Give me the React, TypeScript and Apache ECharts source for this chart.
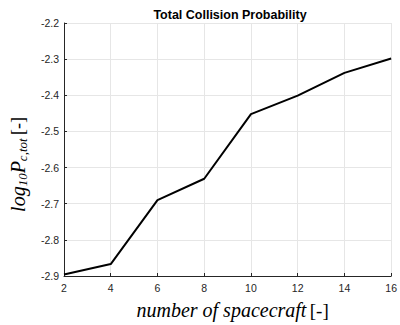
import React, { useEffect, useRef } from "react";
import * as echarts from "echarts";

const spacecraftCounts = [2, 4, 6, 8, 10, 12, 14, 16];
const logCollisionProb = [-2.896, -2.867, -2.69, -2.631, -2.452, -2.401, -2.338, -2.298];
const yTicks = { min: -2.9, max: -2.2, step: 0.1 };
const xTicks = { min: 2, max: 16, step: 2 };

const axisGray = "#262626";
const gridGray = "#e6e6e6";
const mathFont = "Liberation Serif";
const uiFont = "Liberation Sans";

export default function App() {
  const ref = useRef<HTMLDivElement>(null);

  useEffect(() => {
    if (!ref.current) return;
    const chart = echarts.init(ref.current, undefined, { renderer: "svg" });
    chart.setOption({
      animation: false,
      backgroundColor: "#ffffff",
      title: {
        text: "Total Collision Probability",
        left: 225,
        textAlign: "center",
        top: 3,
        textStyle: { fontFamily: uiFont, fontSize: 12.5, fontWeight: "bold", color: "#000" },
      },
      grid: { left: 57, right: 7, top: 23, bottom: 39 },
      xAxis: {
        type: "value",
        min: xTicks.min,
        max: xTicks.max,
        interval: xTicks.step,
        name: "{m|number of spacecraft} {n|[-]}",
        nameLocation: "middle",
        nameGap: 24,
        nameTextStyle: {
          padding: [0, 0, 0, 10],
          rich: {
            m: { fontFamily: mathFont, fontStyle: "italic", fontSize: 20, color: "#000" },
            n: { fontFamily: mathFont, fontSize: 19, color: "#000" },
          },
        },
        axisLine: { show: true, lineStyle: { color: axisGray, width: 1 } },
        axisTick: { show: true, inside: true, length: 3, lineStyle: { color: axisGray } },
        axisLabel: { fontFamily: uiFont, fontSize: 10.5, color: axisGray, margin: 6 },
        splitLine: { show: true, lineStyle: { color: gridGray, width: 1 } },
      },
      yAxis: {
        type: "value",
        min: yTicks.min,
        max: yTicks.max,
        interval: yTicks.step,
        name: "{m|log}{s|10}{m|P}{s|c,tot} {n|[-]}",
        nameLocation: "middle",
        nameRotate: 90,
        nameGap: 35,
        nameTextStyle: {
          padding: [0, 30, 0, 0],
          rich: {
            m: { fontFamily: mathFont, fontStyle: "italic", fontSize: 20, color: "#000", lineHeight: 22 },
            s: { fontFamily: mathFont, fontStyle: "italic", fontSize: 13, color: "#000", verticalAlign: "bottom", lineHeight: 22, padding: [8, 0, 0, 0] },
            n: { fontFamily: mathFont, fontSize: 18, color: "#000", lineHeight: 22 },
          },
        },
        axisLine: { show: true, lineStyle: { color: axisGray, width: 1 } },
        axisTick: { show: true, inside: true, length: 3, lineStyle: { color: axisGray } },
        axisLabel: { fontFamily: uiFont, fontSize: 10.5, color: axisGray, margin: 5, formatter: (v: number) => v.toFixed(1) },
        splitLine: { show: true, lineStyle: { color: gridGray, width: 1 } },
      },
      series: [
        {
          type: "line",
          data: spacecraftCounts.map((x, i) => [x, logCollisionProb[i]]),
          showSymbol: false,
          lineStyle: { color: "#000", width: 2 },
        },
      ],
    });
    return () => chart.dispose();
  }, []);

  return <div ref={ref} style={{ position: "fixed", left: 0, top: 0, width: 400, height: 325 }} />;
}
